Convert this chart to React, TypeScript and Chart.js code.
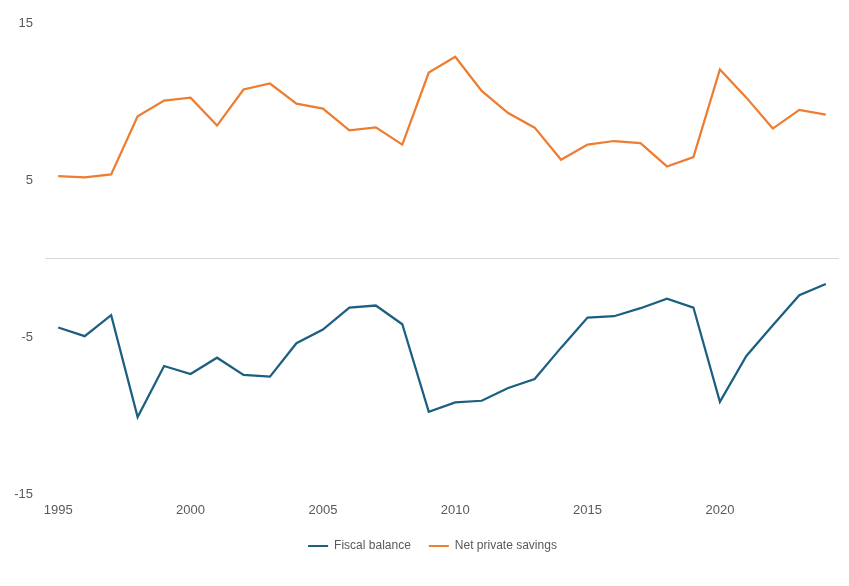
import React, { useEffect, useRef } from "react";
import { Chart, registerables } from "chart.js";

Chart.register(...registerables);

const years: string[] = [
  "1995", "1996", "1997", "1998", "1999", "2000", "2001", "2002", "2003", "2004",
  "2005", "2006", "2007", "2008", "2009", "2010", "2011", "2012", "2013", "2014",
  "2015", "2016", "2017", "2018", "2019", "2020", "2021", "2022", "2023", "2024",
];

const fiscalBalance: number[] = [
  -4.38, -4.93, -3.59, -10.08, -6.83, -7.34, -6.3, -7.4, -7.51, -5.38,
  -4.51, -3.11, -2.98, -4.17, -9.74, -9.15, -9.04, -8.23, -7.66, -5.66,
  -3.75, -3.66, -3.15, -2.55, -3.11, -9.11, -6.19, -4.23, -2.32, -1.61,
];

const netPrivateSavings: number[] = [
  5.25, 5.17, 5.36, 9.06, 10.06, 10.25, 8.47, 10.77, 11.15, 9.87,
  9.55, 8.17, 8.36, 7.26, 11.85, 12.85, 10.68, 9.27, 8.34, 6.3,
  7.26, 7.49, 7.36, 5.87, 6.47, 12.04, 10.25, 8.28, 9.47, 9.17,
];

const yTicks: number[] = [-15, -5, 5, 15];

const BLUE = "#1B6081";
const ORANGE = "#ED7D31";
const TEXT = "#595959";
const FONT = "Liberation Sans, Arial, sans-serif";

const legendShift = {
  id: "legendShift",
  afterLayout(chart: any) {
    const lg = chart.legend;
    if (!lg) return;
    lg.left += 13;
    lg.right += 13;
    lg.top -= 4;
    lg.bottom -= 4;
  },
};

export default function App() {
  const ref = useRef<HTMLCanvasElement | null>(null);

  useEffect(() => {
    if (!ref.current) return;
    const chart = new Chart(ref.current, {
      type: "line",
      data: {
        labels: years,
        datasets: [
          {
            label: "Fiscal balance",
            data: fiscalBalance,
            borderColor: BLUE,
            backgroundColor: BLUE,
            borderWidth: 2.25,
            pointRadius: 0,
            tension: 0,
          },
          {
            label: "Net private savings",
            data: netPrivateSavings,
            borderColor: ORANGE,
            backgroundColor: ORANGE,
            borderWidth: 2.25,
            pointRadius: 0,
            tension: 0,
          },
        ],
      },
      plugins: [legendShift],
      options: {
        animation: false,
        responsive: true,
        maintainAspectRatio: false,
        layout: { padding: { top: 23, right: 10, left: 0, bottom: 20 } },
        plugins: {
          tooltip: { enabled: false },
          legend: {
            position: "bottom",
            labels: {
              boxWidth: 20,
              boxHeight: 2,
              padding: 18,
              color: TEXT,
              font: { family: FONT, size: 12 },
              generateLabels: (c: any) =>
                Chart.defaults.plugins.legend.labels.generateLabels(c).map((l: any) => ({
                  ...l,
                  lineWidth: 0,
                  strokeStyle: "rgba(0,0,0,0)",
                })),
            },
          },
        },
        scales: {
          x: {
            offset: true,
            grid: { display: false, drawTicks: false },
            border: { display: false },
            ticks: {
              autoSkip: false,
              maxRotation: 0,
              padding: 8,
              color: TEXT,
              font: { family: FONT, size: 13 },
              callback: (v: any, i: number) => (Number(years[i]) % 5 === 0 ? years[i] : ""),
            },
          },
          y: {
            min: -15,
            max: 15,
            afterFit: (s: any) => {
              s.width = 45;
            },
            afterBuildTicks: (s: any) => {
              s.ticks = [...yTicks.slice(0, 2), 0, ...yTicks.slice(2)].map((v) => ({ value: v }));
            },
            grid: {
              drawTicks: false,
              color: (ctx: any) => (ctx.tick && ctx.tick.value === 0 ? "#d9d9d9" : "rgba(0,0,0,0)"),
              lineWidth: 1,
            },
            border: { display: false },
            ticks: {
              padding: 12,
              color: TEXT,
              font: { family: FONT, size: 13 },
              callback: (v: any) => (v === 0 ? "" : String(v)),
            },
          },
        },
      },
    });
    return () => chart.destroy();
  }, []);

  return (
    <div style={{ position: "fixed", left: 0, top: 0, width: 849, height: 586, background: "#fff" }}>
      <canvas ref={ref} />
    </div>
  );
}
